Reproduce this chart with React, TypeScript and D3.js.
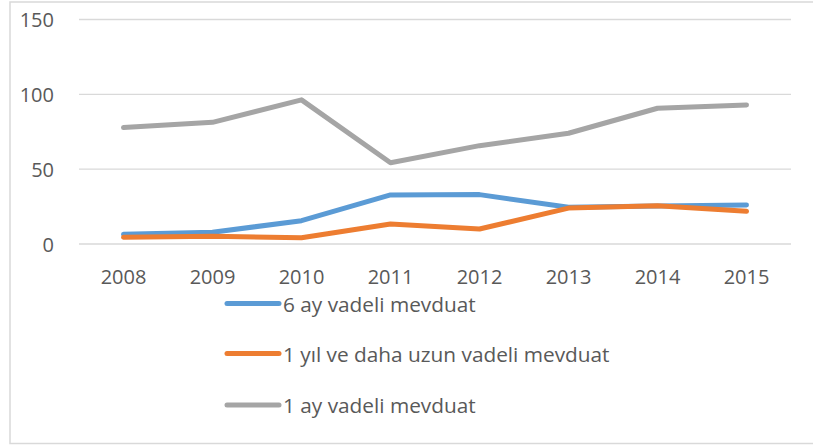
import React from "react";
import * as d3 from "d3";

const years = ["2008", "2009", "2010", "2011", "2012", "2013", "2014", "2015"];
const ay6 = [6.5, 7.8, 15.6, 32.8, 33.0, 24.5, 25.4, 26.0];
const yil1 = [4.5, 5.1, 4.2, 13.4, 10.0, 24.0, 25.6, 21.9];
const ay1 = [77.8, 81.3, 96.3, 54.3, 65.7, 74.0, 90.7, 92.9];
const yTicks = [0, 50, 100, 150];
const seriesNames = ["6 ay vadeli mevduat", "1 yıl ve daha uzun vadeli mevduat", "1 ay vadeli mevduat"];
const seriesColors = ["#5B9BD5", "#ED7D31", "#A5A5A5"];

const W = 813, H = 445;
const plotLeft = 79, plotRight = 791, plotTop = 19.5, plotBottom = 244;
const font = "'Open Sans', 'Liberation Sans', sans-serif";
const textColor = "#595959";

export default function App() {
  const x = d3.scaleBand<string>().domain(years).range([plotLeft, plotRight]);
  const y = d3.scaleLinear().domain([0, 150]).range([plotBottom, plotTop]);
  const line = d3
    .line<number>()
    .x((_, i) => (x(years[i]) as number) + x.bandwidth() / 2)
    .y((d) => y(d));
  const series = [ay6, yil1, ay1];
  const drawOrder = [2, 0, 1];
  const legendY = [303.5, 353.5, 405];

  return (
    <svg
      width={W}
      height={H}
      style={{ position: "absolute", left: 0, top: 0, display: "block", background: "#fff" }}
    >
      <rect x={10} y={2} width={W + 10} height={441.5} fill="#fff" stroke="#D9D9D9" strokeWidth={1.5} />
      {yTicks.map((t) => (
        <g key={t}>
          <line x1={plotLeft} x2={plotRight} y1={y(t)} y2={y(t)} stroke="#D9D9D9" strokeWidth={1.3} />
          <text
            x={54}
            y={y(t)}
            textAnchor="end"
            dominantBaseline="central"
            fontFamily={font}
            fontSize={20}
            fill={textColor}
          >
            {t}
          </text>
        </g>
      ))}
      {years.map((yr) => (
        <text
          key={yr}
          x={(x(yr) as number) + x.bandwidth() / 2}
          y={276}
          textAnchor="middle"
          dominantBaseline="central"
          fontFamily={font}
          fontSize={20}
          fill={textColor}
        >
          {yr}
        </text>
      ))}
      {drawOrder.map((i) => (
        <path
          key={i}
          d={line(series[i]) || ""}
          fill="none"
          stroke={seriesColors[i]}
          strokeWidth={5}
          strokeLinecap="round"
          strokeLinejoin="round"
        />
      ))}
      {seriesNames.map((name, i) => (
        <g key={name}>
          <line
            x1={227}
            x2={279}
            y1={legendY[i]}
            y2={legendY[i]}
            stroke={seriesColors[i]}
            strokeWidth={5}
            strokeLinecap="round"
          />
          <text
            x={283}
            y={legendY[i]}
            dominantBaseline="central"
            fontFamily={font}
            fontSize={20.8}
            fill={textColor}
          >
            {name}
          </text>
        </g>
      ))}
    </svg>
  );
}
